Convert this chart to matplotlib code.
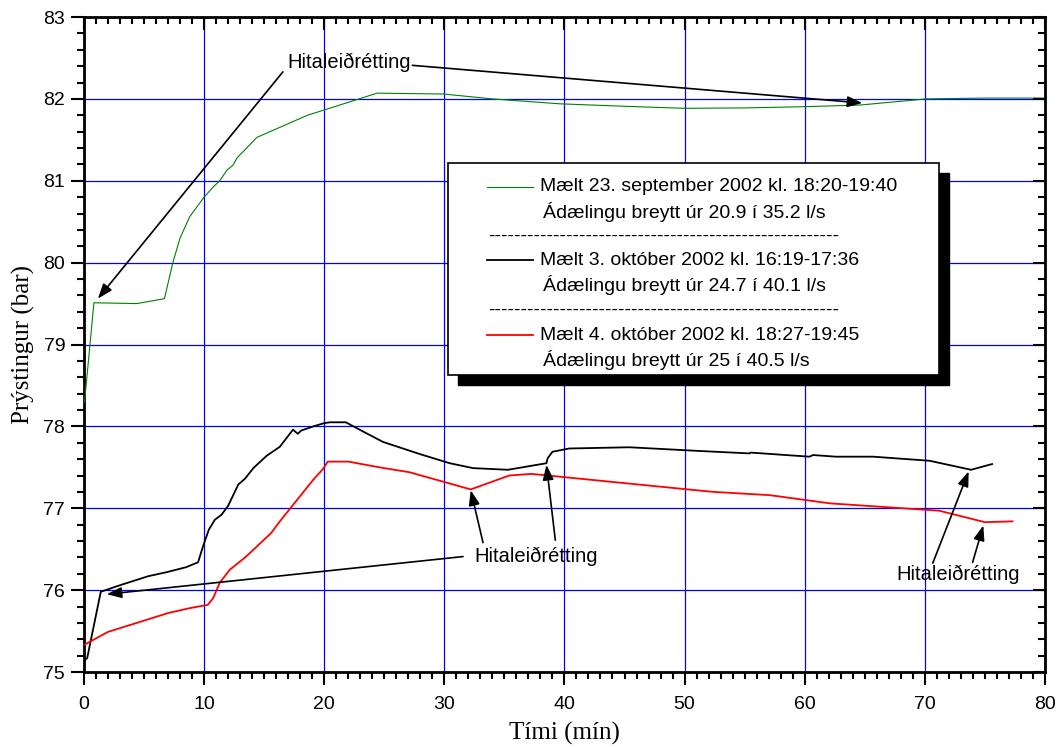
"""Þrýstingur í holu á meðan ádælingu var breytt (þrjár mælingar, 2002)."""

import matplotlib

matplotlib.use("Agg", force=True)

import matplotlib.pyplot as plt  # noqa: E402
from matplotlib.patches import Rectangle  # noqa: E402
from matplotlib.ticker import MultipleLocator, NullFormatter  # noqa: E402

plt.rcParams["font.family"] = ["Liberation Sans", "DejaVu Sans"]

# Mælt 23. september 2002
green_t = [0.05, 0.83, 4.4, 6.7, 7.4, 8.0, 8.8, 10.0, 10.8, 11.3, 11.9, 12.4,
           12.75, 14.4, 18.6, 19.9, 24.4, 29.9, 34.0, 39.6, 45.0, 50.0, 55.0,
           60.0, 64.6, 70.1, 75.0, 80.0]
green_p = [78.3, 79.51, 79.5, 79.56, 80.0, 80.3, 80.56, 80.8, 80.93, 81.0,
           81.13, 81.19, 81.28, 81.53, 81.8, 81.86, 82.07, 82.06, 82.0, 81.94,
           81.91, 81.885, 81.89, 81.905, 81.925, 82.0, 82.01, 82.01]

# Mælt 3. október 2002
black_t = [0.0, 0.27, 1.4, 3.0, 5.35, 6.9, 8.5, 9.5, 9.9, 10.4, 10.9, 11.45,
           12.0, 12.85, 13.4, 14.1, 15.2, 16.3, 17.4, 17.8, 18.1, 19.1, 20.0,
           20.5, 21.8, 23.2, 24.9, 28.0, 30.45, 32.4, 35.3, 38.5, 38.6, 39.0,
           40.4, 45.4, 51.2, 55.4, 55.5, 60.4, 60.7, 62.6, 65.7, 70.4, 73.85,
           75.6]
black_p = [75.14, 75.17, 75.98, 76.06, 76.17, 76.22, 76.28, 76.34, 76.53,
           76.74, 76.86, 76.92, 77.03, 77.29, 77.36, 77.49, 77.64, 77.75, 77.96,
           77.91, 77.95, 78.0, 78.04, 78.05, 78.05, 77.94, 77.81, 77.66, 77.55,
           77.49, 77.47, 77.55, 77.61, 77.69, 77.73, 77.745, 77.70, 77.67,
           77.68, 77.63, 77.65, 77.63, 77.63, 77.58, 77.47, 77.54]

# Mælt 4. október 2002
red_t = [0.0, 2.0, 4.4, 7.0, 8.8, 10.3, 10.75, 11.3, 12.15, 13.5, 15.6, 16.2,
         17.4, 19.1, 19.9, 20.3, 22.0, 24.6, 27.1, 32.2, 35.4, 37.25, 49.6,
         52.4, 57.1, 62.1, 71.2, 75.0, 77.3]
red_p = [75.33, 75.49, 75.6, 75.72, 75.78, 75.82, 75.9, 76.09, 76.25, 76.41,
         76.70, 76.82, 77.04, 77.35, 77.48, 77.57, 77.57, 77.50, 77.44, 77.23,
         77.40, 77.42, 77.24, 77.20, 77.16, 77.06, 76.97, 76.83, 76.84]

series_colors = ["green", "black", "red"]
series_widths = [0.8, 1.3, 1.3]
legend_head = [
    "Mælt 23. september 2002 kl. 18:20-19:40",
    "Mælt 3. október 2002 kl. 16:19-17:36",
    "Mælt 4. október 2002 kl. 18:27-19:45",
]
legend_sub = [
    "Ádælingu breytt úr 20.9 í 35.2 l/s",
    "Ádælingu breytt úr 24.7 í 40.1 l/s",
    "Ádælingu breytt úr 25 í 40.5 l/s",
]

note_text = "Hitaleiðrétting"
# (texti x, texti y) og listi af (upphaf ör, oddur ör)
note_groups = [
    ((16.97, 82.45), [((16.56, 82.33), (1.16, 79.56)),
                      ((27.34, 82.41), (64.8, 81.95))]),
    ((32.53, 76.41), [((31.56, 76.41), (1.89, 75.95)),
                      ((33.22, 76.58), (32.2, 77.22)),
                      ((39.24, 76.61), (38.5, 77.53))]),
    ((67.6, 76.19), [((70.66, 76.33), (73.65, 77.45)),
                     ((73.98, 76.34), (74.87, 76.79))]),
]

XLIM = (0, 80)
YLIM = (75, 83)


def _set_locators(ax):
    ax.xaxis.set_major_locator(MultipleLocator(10))
    ax.xaxis.set_minor_locator(MultipleLocator(1))
    ax.yaxis.set_major_locator(MultipleLocator(1))
    ax.yaxis.set_minor_locator(MultipleLocator(0.2))


def build_figure():
    fig = plt.figure(figsize=(10.6, 7.47), dpi=100)
    ax = fig.add_axes([0.0792, 0.1004, 0.9066, 0.8768])

    for t, p, c, w in zip([green_t, black_t, red_t], [green_p, black_p, red_p],
                          series_colors, series_widths):
        ax.plot(t, p, color=c, lw=w, zorder=3)

    ax.set_xlim(*XLIM)
    ax.set_ylim(*YLIM)
    _set_locators(ax)
    ax.grid(True, which="major", color="#0000ff", lw=0.9, zorder=1)
    ax.set_axisbelow(True)

    for s in ax.spines.values():
        s.set_linewidth(2)
    ax.tick_params(which="both", direction="out", width=1.5, labelsize=14)
    ax.tick_params(which="major", length=9.5)
    ax.tick_params(which="minor", length=5)
    ax.tick_params(axis="x", pad=8)
    ax.tick_params(axis="y", pad=4)

    # top / right: ticks pointing in, no labels (overlay axes, no patch)
    over = fig.add_axes(ax.get_position(), frameon=False, zorder=0)
    over.set_xlim(*XLIM)
    over.set_ylim(*YLIM)
    _set_locators(over)
    over.patch.set_visible(False)
    over.xaxis.set_ticks_position("top")
    over.yaxis.set_ticks_position("right")
    over.xaxis.set_major_formatter(NullFormatter())
    over.yaxis.set_major_formatter(NullFormatter())
    over.tick_params(which="both", direction="in", width=1.5)
    over.tick_params(which="major", length=9)
    over.tick_params(which="minor", length=5)
    over.set_navigate(False)

    ax.set_xlabel("Tími (mín)", family="Liberation Serif", fontsize=18,
                  labelpad=6)
    ax.set_ylabel("Prýstingur (bar)", family="Liberation Serif", fontsize=18,
                  labelpad=6)

    # annotations
    for (tx, ty), arrows in note_groups:
        ax.text(tx, ty, note_text, fontsize=14.5, ha="left", va="center",
                zorder=6)
        for start, tip in arrows:
            ax.annotate("", xy=tip, xytext=start, zorder=6,
                        arrowprops=dict(arrowstyle="-|>,head_length=0.6,head_width=0.22",
                                        color="black", lw=1.2, mutation_scale=15,
                                        shrinkA=0, shrinkB=0))

    # legend box with drop shadow
    tr = ax.transAxes
    x0, x1, y0, y1 = 0.3788, 0.8897, 0.4534, 0.7771
    ax.add_patch(Rectangle((x0 + 0.0104, y0 - 0.0153), x1 - x0, y1 - y0,
                           transform=tr, facecolor="black", edgecolor="black",
                           zorder=7))
    ax.add_patch(Rectangle((x0, y0), x1 - x0, y1 - y0, transform=tr,
                           facecolor="white", edgecolor="black", lw=1.2,
                           zorder=8))
    head_y = [0.741, 0.629, 0.5145]
    sub_y = [0.703, 0.5908, 0.4763]
    for i in range(3):
        ax.plot([0.419, 0.4675], [head_y[i], head_y[i]], transform=tr,
                color=series_colors[i], lw=series_widths[i], zorder=9)
        ax.text(0.4745, head_y[i], legend_head[i], transform=tr, fontsize=14,
                va="center", ha="left", zorder=9)
        ax.text(0.4776, sub_y[i], legend_sub[i], transform=tr, fontsize=14,
                va="center", ha="left", zorder=9)
    for y in (0.6656, 0.5516):
        ax.text(0.4204, y, "-" * 54, transform=tr, fontsize=14, va="center",
                ha="left", zorder=9)
    return fig


if __name__ == "__main__":
    fig = build_figure()
    fig.savefig("out.png", dpi=100)
    plt.close(fig)
